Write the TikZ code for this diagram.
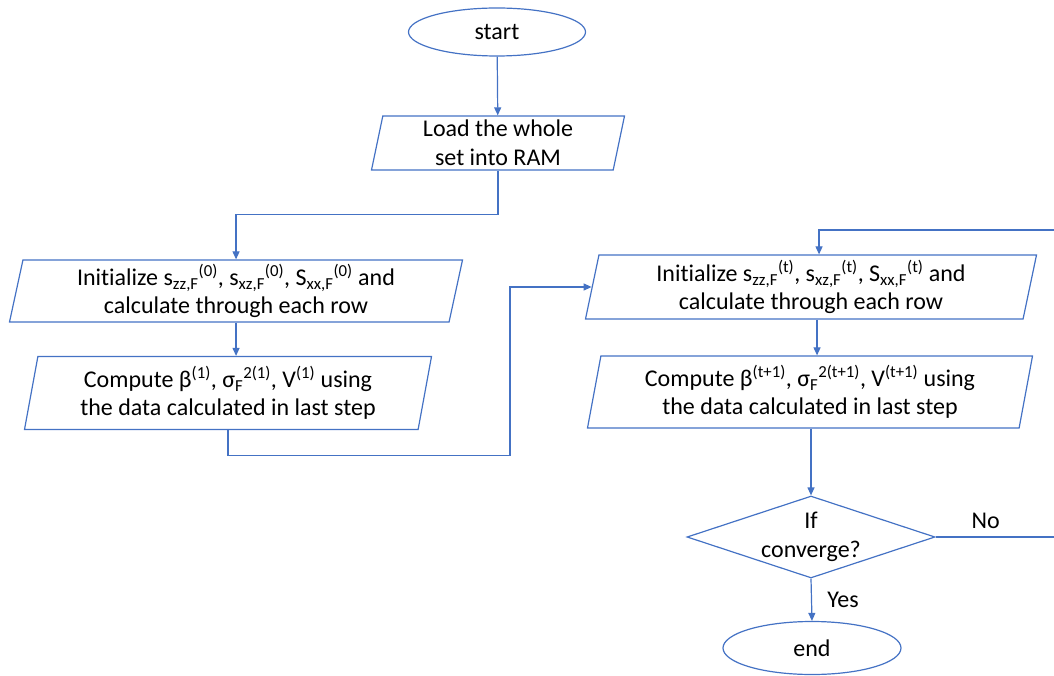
\documentclass[tikz,border=0pt]{standalone}
\usepackage{fontspec}
\setmainfont[Ligatures=NoCommon]{Carlito}
\usetikzlibrary{shapes.geometric,arrows.meta}
\definecolor{flowblue}{HTML}{4472C4}

\begin{document}
\begin{tikzpicture}[x=1pt,y=-1pt]
    % styles
    \tikzstyle{every node}=[font=\fontsize{24}{28.5}\selectfont]
    \tikzstyle{line}=[draw=flowblue, line width=1.2pt]
    \tikzstyle{arrow}=[line, -{Triangle[length=8pt,width=7pt]}]
    \tikzstyle{terminal}=[ellipse, draw=flowblue, line width=1.2pt, inner sep=0pt]
    \tikzstyle{iobox}=[trapezium, trapezium left angle=76, trapezium right angle=104, trapezium stretches body, draw=flowblue, line width=1.2pt, inner sep=0pt, align=center]
    \tikzstyle{decision}=[diamond, draw=flowblue, line width=1.2pt, inner sep=0pt]

    % page frame
    \useasboundingbox (0,0) rectangle (1054,676);

    % left column
    \node[terminal, minimum width=177pt, minimum height=48pt] (start) at (497,32) {start};
    \node[iobox, minimum width=253pt, minimum height=54pt] (load) at (498,143) {Load the whole\\set into RAM};
    \node[iobox, minimum width=453pt, minimum height=62pt] (init0) at (236,291)
        {Initialize s\textsubscript{zz,F}\textsuperscript{(0)}, s\textsubscript{xz,F}\textsuperscript{(0)}, S\textsubscript{xx,F}\textsuperscript{(0)} and\\calculate through each row};
    \node[iobox, minimum width=407pt, minimum height=73pt] (comp0) at (228,393)
        {Compute β\textsuperscript{(1)}, σ\textsubscript{F}\textsuperscript{2(1)}, V\textsuperscript{(1)} using\\the data calculated in last step};

    % right column (iteration)
    \node[iobox, minimum width=451pt, minimum height=64pt] (initt) at (811,287)
        {Initialize s\textsubscript{zz,F}\textsuperscript{(t)}, s\textsubscript{xz,F}\textsuperscript{(t)}, S\textsubscript{xx,F}\textsuperscript{(t)} and\\calculate through each row};
    \node[iobox, minimum width=445pt, minimum height=72pt] (compt) at (810,392)
        {Compute β\textsuperscript{(t+1)}, σ\textsubscript{F}\textsuperscript{2(t+1)}, V\textsuperscript{(t+1)} using\\the data calculated in last step};
    \node[decision, minimum width=248pt, minimum height=82pt,
          label={[align=center]center:If\\converge?}] (conv) at (811,537) {};
    \node[terminal, minimum width=178pt, minimum height=53pt] (end) at (812,648) {end};

    % loop back comes in from beyond the right edge
    \coordinate (back) at (1075,230);

    % connectors
    \draw[arrow] (start) -- (load);
    \draw[arrow] (load.south) -- ++(0,44) -| (init0.north);
    \draw[arrow] (init0.south) -- (init0.south |- comp0.north);
    \draw[arrow] (comp0.south) -- ++(0,25) -- ++(282,0) |- (initt.west);
    \draw[arrow] ([xshift=6pt]initt.south) -- ([xshift=6pt]initt.south |- compt.north);
    \draw[arrow] (conv.north |- compt.south) -- (conv.north);
    \draw[arrow] (conv.south) -- node[right=12pt] (yes) {Yes} (end.north);
    \draw[arrow] (conv.east) -- node[pos=0.36, above=4pt] (no) {No} (conv.east -| back)
        -- (back) -- ([xshift=8pt]back -| initt.north) -- ([xshift=8pt]initt.north);
\end{tikzpicture}
\end{document}
